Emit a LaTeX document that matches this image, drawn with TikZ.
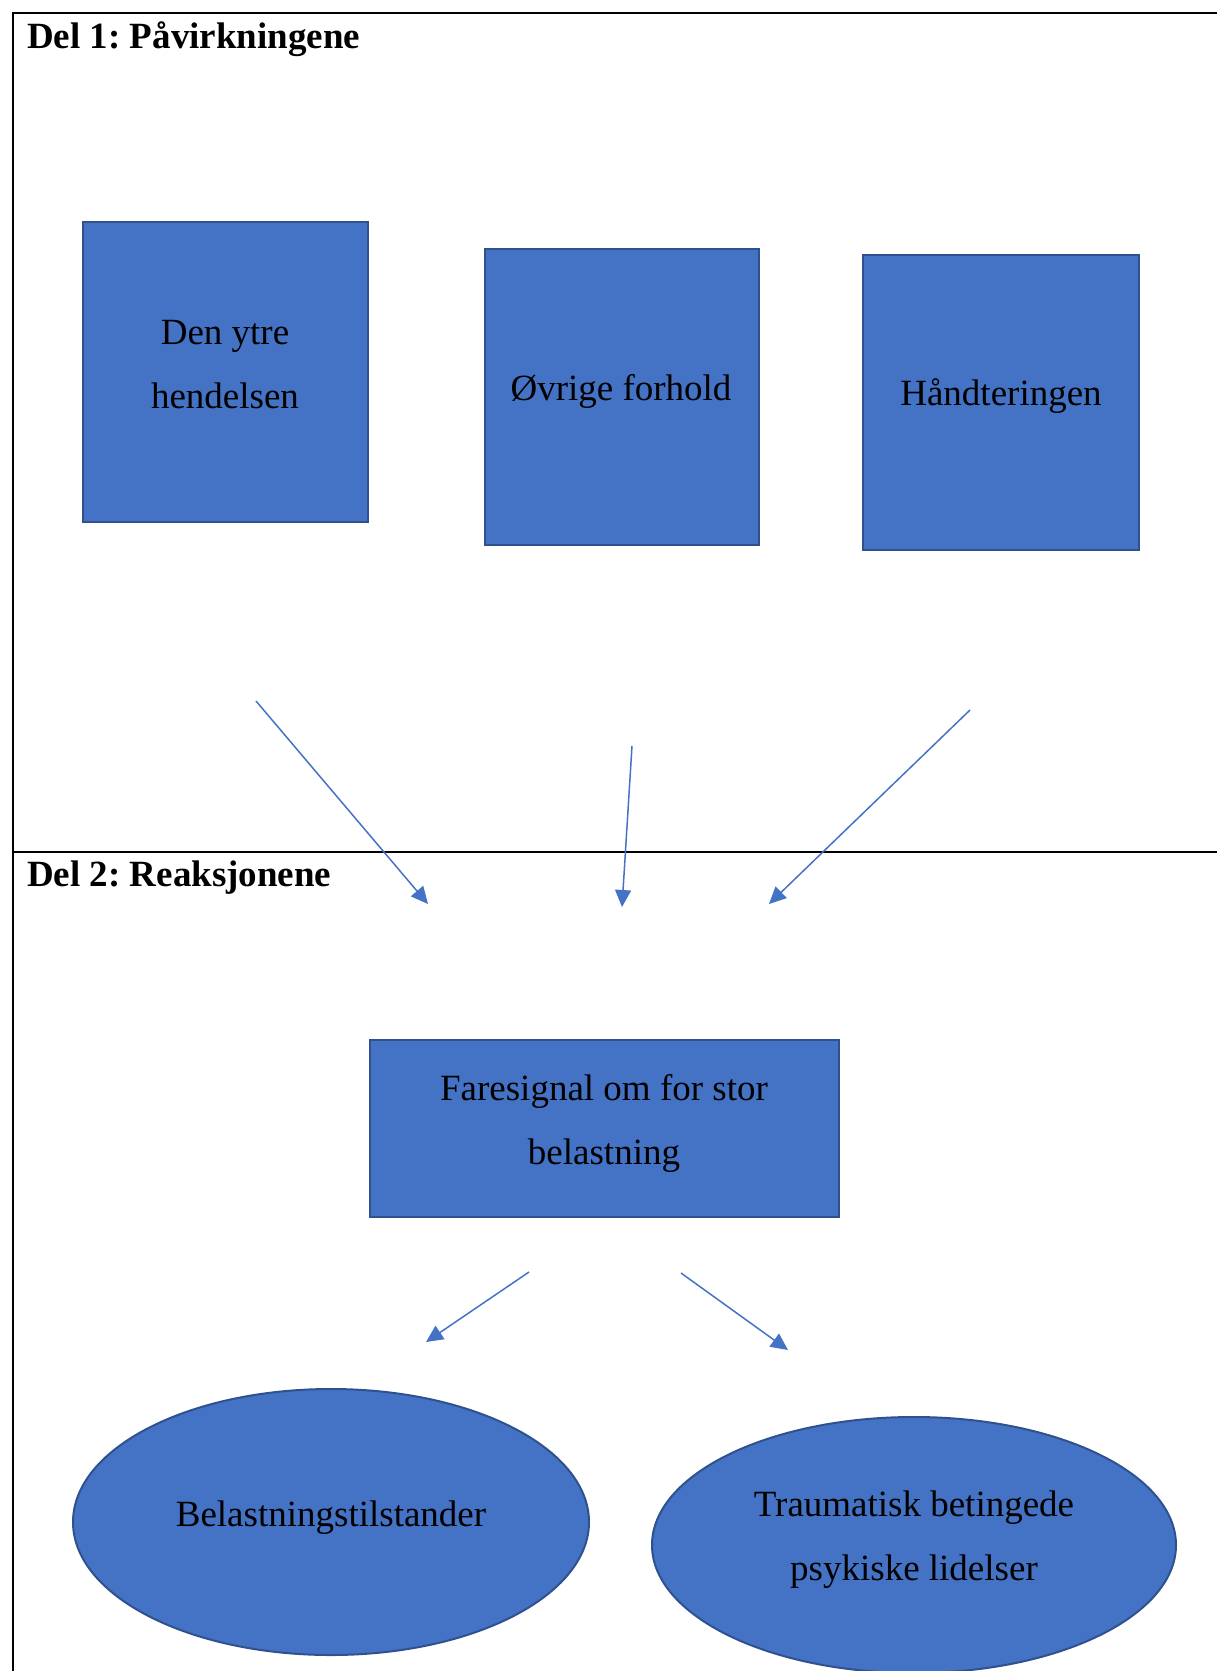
\documentclass[tikz,border=0pt]{standalone}
\usepackage{fontspec}
\setmainfont{Liberation Serif}
\usetikzlibrary{arrows.meta,shapes.geometric}
\definecolor{boxfill}{HTML}{4472C4}
\definecolor{boxline}{HTML}{2F528F}
\frenchspacing
\begin{document}
\begin{tikzpicture}[x=1pt,y=-1pt,
  frameline/.style={line width=2.2pt,black},
  bluebox/.style={draw=boxline,fill=boxfill,line width=2pt,inner sep=0pt},
  blueell/.style={ellipse,draw=boxline,fill=boxfill,line width=2pt,inner sep=0pt},
  lbl/.style={align=center,font=\fontsize{37}{64}\selectfont,inner sep=0pt},
  hdr/.style={anchor=west,font=\fontsize{37}{44}\selectfont\bfseries,inner sep=0pt},
  arr/.style={draw=boxfill,line width=1.5pt,-{Triangle[length=17pt,width=16pt]}}]
\useasboundingbox (0,0) rectangle (1217,1671);
% frame
\draw[frameline] (1217,13) -- (13,13) -- (13,1671);
\draw[frameline] (13,852) -- (1217,852);
% headers
\node[hdr] (h1) at (27,39) {Del 1: Påvirkningene};
\node[hdr] (h2) at (27,878) {Del 2: Reaksjonene};
% boxes
\node[bluebox,minimum width=285pt,minimum height=300pt] (b1) at (225.5,372) {};
\node[bluebox,minimum width=274pt,minimum height=296pt] (b2) at (622,397) {};
\node[bluebox,minimum width=276pt,minimum height=295pt] (b3) at (1001,402.5) {};
\node[bluebox,minimum width=469pt,minimum height=177pt] (b4) at (604.5,1128.5) {};
\node[blueell,minimum width=516pt,minimum height=266pt] (e1) at (331,1522) {};
\node[blueell,minimum width=524pt,minimum height=256pt] (e2) at (914,1545) {};
% labels
\node[lbl] (t1) at (225,365) {Den ytre\\hendelsen};
\node[lbl] (t2) at (621,391) {Øvrige forhold};
\node[lbl] (t3) at (1001,396) {Håndteringen};
\node[lbl] (t4) at (604,1123) {Faresignal om for stor\\belastning};
\node[lbl] (t5) at (331,1518) {Belastningstilstander};
\node[lbl] (t6) at (914,1540) {Traumatisk betingede\\psykiske lidelser};
% arrow endpoints
\coordinate (a1s) at (256,701);
\coordinate (a1e) at (428,904);
\coordinate (a2s) at (632,746);
\coordinate (a2e) at (622,907);
\coordinate (a3s) at (970,710);
\coordinate (a3e) at (769,904);
\coordinate (a4s) at (529,1272);
\coordinate (a4e) at (426,1342);
\coordinate (a5s) at (681,1273);
\coordinate (a5e) at (788,1350);
\draw[arr] (a1s) -- (a1e);
\draw[arr] (a2s) -- (a2e);
\draw[arr] (a3s) -- (a3e);
\draw[arr] (a4s) -- (a4e);
\draw[arr] (a5s) -- (a5e);
\end{tikzpicture}
\end{document}
